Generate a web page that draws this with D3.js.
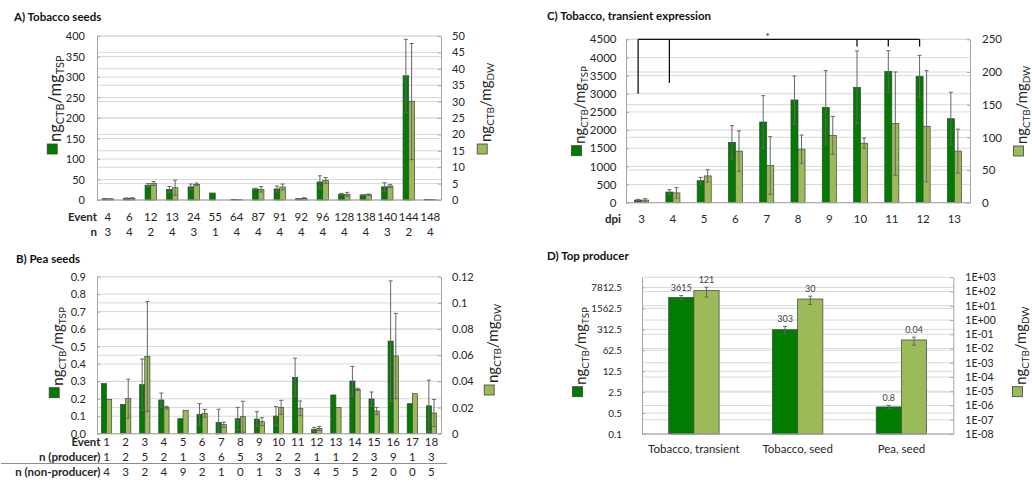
<!DOCTYPE html>
<html><head><meta charset="utf-8">
<script src="https://cdn.jsdelivr.net/npm/d3@7"></script>
<style>
body{margin:0;background:#fff;}
svg{display:block;}
</style></head><body>
<script>
// ---------- A) Tobacco seeds ----------
const aEvents  = ["4","6","12","13","24","55","64","87","91","92","96","128","138","140","144","148"];
const aN       = [3,4,2,4,3,1,4,4,4,4,4,4,4,3,2,4];
const aTsp     = [3,4,36,26,32,17,1,27,27,3,44,14,12,32,303,1];
const aTspErr  = [0.5,1,4,7,7,0,0,1.5,7,0.5,15,2,1,10,89,0];
const aDw      = [0.3,0.5,5.0,3.75,4.77,0,0.1,3.25,3.96,0.5,5.98,1.72,1.62,4.26,30,0.1];
const aDwErr   = [0.1,0.2,0.6,2.3,0.4,0,0,0.8,0.9,0.2,0.9,0.6,0.2,0.5,17.7,0];
const aTicksTsp = [0,50,100,150,200,250,300,350,400];
const aTicksDw  = [0,5,10,15,20,25,30,35,40,45,50];

// ---------- B) Pea seeds ----------
const bEvents   = ["1","2","3","4","5","6","7","8","9","10","11","12","13","14","15","16","17","18"];
const bNProd    = [1,2,5,2,1,3,6,5,3,2,2,1,1,2,3,9,1,3];
const bNNonProd = [4,3,2,4,9,2,1,0,1,3,3,4,5,5,2,0,0,5];
const bTsp      = [0.287,0.168,0.281,0.193,0.086,0.111,0.065,0.086,0.084,0.101,0.323,0.025,0.222,0.302,0.199,0.531,0.172,0.16];
const bTspErr   = [0,0,0.147,0.04,0,0.061,0.075,0.065,0.042,0.055,0.11,0.011,0,0.084,0.04,0.345,0,0.147];
const bDw       = [0.0263,0.0268,0.059,0.0199,0.0179,0.0156,0.0069,0.013,0.0092,0.0201,0.0194,0.0041,0.0201,0.0339,0.0173,0.0594,0.0306,0.0158];
const bDwErr    = [0,0.0149,0.042,0.001,0,0.003,0.002,0.0118,0.003,0.0054,0.0056,0.0015,0,0.0008,0.0028,0.0326,0,0.0104];
const bTicksTsp = [0,0.1,0.2,0.3,0.4,0.5,0.6,0.7,0.8,0.9];
const bTicksDw  = [0,0.02,0.04,0.06,0.08,0.1,0.12];

// ---------- C) Tobacco, transient expression ----------
const cDpi      = ["3","4","5","6","7","8","9","10","11","12","13"];
const cTsp      = [73,294,606,1662,2222,2829,2627,3178,3615,3481,2314];
const cTspErr   = [20,64,92,459,726,661,1010,1000,570,578,726];
const cDw       = [4,15,41,79,57,82,103,91,121,117,79];
const cDwErr    = [2,8,9.5,31,44,21.5,29,8,79,85,33.5];
const cTicksTsp = [0,500,1000,1500,2000,2500,3000,3500,4000,4500];
const cTicksDw  = [0,50,100,150,200,250];
// significance bracket: drop positions (dpi) and the level each drop reaches
const cBracketDpi  = ["3","4","10","11","12"];
const cBracketDrop = [3000,3300,4300,4300,4300];
const cBracketTop  = 4500;

// ---------- D) Top producer ----------
const dSystems   = ["Tobacco, transient","Tobacco, seed","Pea, seed"];
const dTsp       = [3615,303,0.8];
const dTspErr    = [570,89,0.1];
const dDw        = [121,30,0.04];
const dDwErr     = [79,17.7,0.023];
const dTicksTsp  = [0.1,0.5,2.5,12.5,62.5,312.5,1562.5,7812.5];
const dTicksDw   = [1e-8,1e-7,1e-6,1e-5,1e-4,1e-3,1e-2,1e-1,1e0,1e1,1e2,1e3];

// ---------- styling ----------
const FONT = "Lato, 'Open Sans', sans-serif";
const DARK = "#007c00", LIGHT = "#9bbb59";
const EDGE = "#404040", ERR = "#666666";
const GRID = "#d9d9d9", AXIS = "#a6a6a6", INK = "#262626";

const svg = d3.select("body").append("svg")
  .attr("width", 1032).attr("height", 486)
  .attr("font-family", FONT);

function title(x, y, txt) {
  svg.append("text").attr("x", x).attr("y", y)
    .attr("font-size", 11.5).attr("font-weight", 700).attr("fill", "#111")
    .text(txt);
}

function yTitle(xBase, yBottom, fill, unit, size) {
  const sub = size * 0.66;
  svg.append("rect")
    .attr("x", xBase - 13.5).attr("y", yBottom - 10)
    .attr("width", 10).attr("height", 10)
    .attr("fill", fill).attr("stroke", EDGE).attr("stroke-width", 0.8);
  const t = svg.append("text")
    .attr("transform", `translate(${xBase},${yBottom - 12}) rotate(-90)`)
    .attr("font-size", size).attr("fill", INK);
  t.append("tspan").text("ng");
  t.append("tspan").attr("font-size", sub).attr("dy", size * 0.22).text("CTB");
  t.append("tspan").attr("dy", -size * 0.22).text("/mg");
  t.append("tspan").attr("font-size", sub).attr("dy", size * 0.22).text(unit);
}

// one dual-axis clustered bar panel
function panel(p) {
  const g = svg.append("g");
  const band = d3.scaleBand().domain(p.cats).range([p.x0, p.x1]);
  const bw = band.bandwidth() * p.barFrac;
  const cx = c => band(c) + band.bandwidth() / 2;
  const yL = p.yL, yR = p.yR;

  // gridlines of both value axes
  g.append("g").selectAll("line").data(p.ticksL).join("line")
    .attr("x1", p.x0).attr("x2", p.x1)
    .attr("y1", d => yL(d)).attr("y2", d => yL(d))
    .attr("stroke", GRID);
  g.append("g").selectAll("line").data(p.ticksR).join("line")
    .attr("x1", p.x0).attr("x2", p.x1)
    .attr("y1", d => yR(d)).attr("y2", d => yR(d))
    .attr("stroke", GRID);

  const rows = p.cats.map((c, i) => ({c, l: p.tsp[i], le: p.tspErr[i], r: p.dw[i], re: p.dwErr[i]}));

  // bars
  g.append("g").selectAll("rect").data(rows.filter(d => d.l > 0)).join("rect")
    .attr("x", d => cx(d.c) - bw).attr("width", bw)
    .attr("y", d => yL(d.l)).attr("height", d => p.y1 - yL(d.l))
    .attr("fill", DARK).attr("stroke", EDGE).attr("stroke-width", 0.7);
  g.append("g").selectAll("rect").data(rows.filter(d => d.r > 0)).join("rect")
    .attr("x", d => cx(d.c)).attr("width", bw)
    .attr("y", d => yR(d.r)).attr("height", d => p.y1 - yR(d.r))
    .attr("fill", LIGHT).attr("stroke", EDGE).attr("stroke-width", 0.7);

  // error bars
  const errs = [];
  rows.forEach(d => {
    if (d.le > 0) errs.push({x: cx(d.c) - bw / 2, lo: yL(Math.max(d.l - d.le, p.minL)), hi: yL(d.l + d.le)});
    if (d.re > 0) errs.push({x: cx(d.c) + bw / 2, lo: yR(Math.max(d.r - d.re, p.minR)), hi: yR(d.r + d.re)});
  });
  const eg = g.append("g").attr("stroke", ERR).attr("stroke-width", 1);
  eg.selectAll("line.v").data(errs).join("line").attr("class", "v")
    .attr("x1", d => d.x).attr("x2", d => d.x).attr("y1", d => d.lo).attr("y2", d => d.hi);
  eg.selectAll("line.t").data(errs).join("line").attr("class", "t")
    .attr("x1", d => d.x - 2).attr("x2", d => d.x + 2).attr("y1", d => d.hi).attr("y2", d => d.hi);
  eg.selectAll("line.b").data(errs).join("line").attr("class", "b")
    .attr("x1", d => d.x - 2).attr("x2", d => d.x + 2).attr("y1", d => d.lo).attr("y2", d => d.lo);

  // value axes
  const ax = g.append("g").attr("transform", `translate(${p.x0},0)`)
    .call(d3.axisLeft(yL).tickValues(p.ticksL).tickFormat(p.fmtL)
      .tickSizeInner(-3).tickSizeOuter(0).tickPadding(p.padL));
  const ar = g.append("g").attr("transform", `translate(${p.x1},0)`)
    .call(d3.axisRight(yR).tickValues(p.ticksR).tickFormat(p.fmtR)
      .tickSizeInner(-3).tickSizeOuter(0).tickPadding(p.padR));
  ax.attr("font-size", p.tickSizeL || p.tickSize);
  ar.attr("font-size", p.tickSize);
  [ax, ar].forEach(a => {
    a.attr("font-family", FONT);
    a.select(".domain").attr("stroke", AXIS);
    a.selectAll(".tick line").attr("stroke", AXIS);
    a.selectAll(".tick text").attr("fill", INK);
  });

  // category axis line
  g.append("line").attr("x1", p.x0).attr("x2", p.x1)
    .attr("y1", p.y1).attr("y2", p.y1).attr("stroke", AXIS);

  // category label rows
  (p.rows || []).forEach(r => {
    g.append("text").attr("x", p.headX).attr("y", r.y)
      .attr("text-anchor", "end").attr("font-size", 11.5).attr("font-weight", 700)
      .attr("fill", INK).text(r.head);
    g.append("g").selectAll("text").data(p.cats.map((c, i) => ({c, v: r.vals[i]}))).join("text")
      .attr("x", d => cx(d.c)).attr("y", r.y)
      .attr("text-anchor", "middle").attr("font-size", 11.5).attr("fill", INK)
      .text(d => d.v);
  });

  return {g, band, cx, bw, rows};
}

const fmtPlain = d => String(+d.toFixed(2));

// ---------- A ----------
title(14, 21, "A) Tobacco seeds");
panel({
  cats: aEvents, tsp: aTsp, tspErr: aTspErr, dw: aDw, dwErr: aDwErr,
  x0: 97, x1: 441, y1: 200,
  yL: d3.scaleLinear().domain([0, d3.max(aTicksTsp)]).range([200, 36]),
  yR: d3.scaleLinear().domain([0, d3.max(aTicksDw)]).range([200, 36]),
  ticksL: aTicksTsp, ticksR: aTicksDw, fmtL: d3.format("d"), fmtR: d3.format("d"),
  minL: 0, minR: 0, padL: 12, padR: 11, tickSize: 11, barFrac: 0.265,
  headX: 97,
  rows: [{head: "Event", vals: aEvents, y: 221}, {head: "n", vals: aN, y: 235.5}]
});
yTitle(60.7, 154, DARK, "TSP", 16.5);
yTitle(490.7, 154, LIGHT, "DW", 15);

// ---------- B ----------
title(16, 263, "B) Pea seeds");
panel({
  cats: bEvents, tsp: bTsp, tspErr: bTspErr, dw: bDw, dwErr: bDwErr,
  x0: 97, x1: 441, y1: 433.7,
  yL: d3.scaleLinear().domain([0, d3.max(bTicksTsp)]).range([433.7, 276.7]),
  yR: d3.scaleLinear().domain([0, d3.max(bTicksDw)]).range([433.7, 276.7]),
  ticksL: bTicksTsp, ticksR: bTicksDw, fmtL: d3.format(".1f"), fmtR: fmtPlain,
  minL: 0, minR: 0, padL: 11, padR: 11, tickSize: 11, barFrac: 0.27,
  headX: 100.5,
  rows: [
    {head: "Event", vals: bEvents, y: 446},
    {head: "n (producer)", vals: bNProd, y: 460.5},
    {head: "n (non-producer)", vals: bNNonProd, y: 475.5}
  ]
});
svg.append("line").attr("x1", 1).attr("x2", 447).attr("y1", 463.5).attr("y2", 463.5)
  .attr("stroke", "#8c8c8c").attr("stroke-width", 1);
yTitle(62.7, 397.7, DARK, "TSP", 15);
yTitle(497.7, 395, LIGHT, "DW", 15);

// ---------- C ----------
title(547, 20, "C) Tobacco, transient expression");
const cY = d3.scaleLinear().domain([0, d3.max(cTicksTsp)]).range([202.7, 39.3]);
const C = panel({
  cats: cDpi, tsp: cTsp, tspErr: cTspErr, dw: cDw, dwErr: cDwErr,
  x0: 626, x1: 970, y1: 202.7,
  yL: cY,
  yR: d3.scaleLinear().domain([0, d3.max(cTicksDw)]).range([202.7, 39.3]),
  ticksL: cTicksTsp, ticksR: cTicksDw, fmtL: d3.format("d"), fmtR: d3.format("d"),
  minL: 0, minR: 0, padL: 9.5, padR: 12, tickSize: 11.5, barFrac: 0.225,
  headX: 621,
  rows: [{head: "dpi", vals: cDpi, y: 223}]
});
yTitle(585, 155.7, DARK, "TSP", 14.8);
yTitle(1027, 156, LIGHT, "DW", 14.8);

// significance bracket across dpi 3–12
const dropX = d => C.cx(d) - C.bw / 2;
const br = svg.append("g").attr("stroke", "#111").attr("stroke-width", 1.3);
br.append("line")
  .attr("x1", dropX(cBracketDpi[0])).attr("x2", dropX(cBracketDpi[cBracketDpi.length - 1]))
  .attr("y1", cY(cBracketTop)).attr("y2", cY(cBracketTop));
br.selectAll("line.drop").data(cBracketDpi.map((d, i) => ({d, v: cBracketDrop[i]}))).join("line")
  .attr("class", "drop")
  .attr("x1", d => dropX(d.d)).attr("x2", d => dropX(d.d))
  .attr("y1", cY(cBracketTop)).attr("y2", d => cY(d.v));
svg.append("text").attr("x", C.cx("7") + 1).attr("y", cY(cBracketTop) + 1)
  .attr("text-anchor", "middle").attr("font-size", 10).attr("fill", "#111").text("*");

// ---------- D ----------
title(547, 260, "D) Top producer");
const dYL = d3.scaleLog().base(5).domain([0.1, 17000]).range([434, 277.3]);
const dYR = d3.scaleLog().domain([1e-8, 1e3]).range([434, 277.3]);
const D = panel({
  cats: dSystems, tsp: dTsp, tspErr: dTspErr, dw: dDw, dwErr: dDwErr,
  x0: 642, x1: 953.3, y1: 434,
  yL: dYL, yR: dYR,
  ticksL: dTicksTsp, ticksR: dTicksDw,
  fmtL: d => String(d),
  fmtR: d => { const e = Math.round(Math.log10(d)); return "1E" + (e < 0 ? "-" : "+") + String(Math.abs(e)).padStart(2, "0"); },
  minL: 0.1, minR: 1e-8, padL: 20, padR: 12, tickSize: 10.5, tickSizeL: 9.8, barFrac: 0.243,
  headX: 640,
  rows: []
});
// category names
svg.append("g").selectAll("text").data(dSystems).join("text")
  .attr("x", d => D.cx(d)).attr("y", 453)
  .attr("text-anchor", "middle").attr("font-size", 11.5).attr("fill", INK)
  .text(d => d);
// value labels above the error bars
const dLabels = [];
dSystems.forEach((s, i) => {
  dLabels.push({x: D.cx(s) - D.bw / 2, y: dYL(dTsp[i] + dTspErr[i]), v: dTsp[i]});
  dLabels.push({x: D.cx(s) + D.bw / 2, y: dYR(dDw[i] + dDwErr[i]), v: dDw[i]});
});
svg.append("g").selectAll("text").data(dLabels).join("text")
  .attr("x", d => d.x).attr("y", d => d.y - 4.5)
  .attr("text-anchor", "middle").attr("font-size", 9).attr("fill", "#404040")
  .text(d => String(d.v));
yTitle(586, 396.7, DARK, "TSP", 14.8);
yTitle(1026, 396.7, LIGHT, "DW", 14.8);
</script>
</body></html>
